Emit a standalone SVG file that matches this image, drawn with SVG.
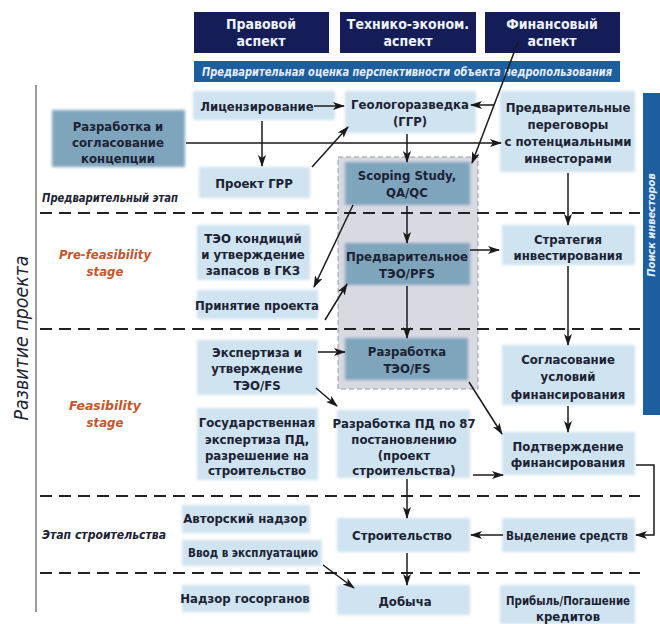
<svg xmlns="http://www.w3.org/2000/svg" width="660" height="624" viewBox="0 0 660 624">
<defs>
<filter id="soft" x="-10%" y="-20%" width="120%" height="140%"><feGaussianBlur stdDeviation="1.6"/></filter>
<marker id="ar" viewBox="0 0 12 8" refX="11" refY="4" markerWidth="12" markerHeight="8" markerUnits="userSpaceOnUse" orient="auto"><path d="M0,0 L12,4 L0,8 L3,4 z" fill="#1a1a1a"/></marker>
</defs>
<style>
.lb{fill:#cfe3f0;filter:url(#soft)}
.db{fill:#7fa5bd;filter:url(#soft)}
.hd{fill:#151d58}
.t{font-family:"DejaVu Sans Condensed","Liberation Sans",sans-serif;font-weight:bold;font-size:13px;fill:#1c2233;text-anchor:middle}
.ht{font-family:"DejaVu Sans Condensed","Liberation Sans",sans-serif;font-weight:bold;font-size:14px;fill:#eef2fa;text-anchor:middle}
.it{font-family:"DejaVu Sans Condensed","Liberation Sans",sans-serif;font-weight:bold;font-style:italic;font-size:13px;fill:#1c2233}
.or{font-family:"DejaVu Sans Condensed","Liberation Sans",sans-serif;font-weight:bold;font-style:italic;font-size:13px;fill:#c4552c;text-anchor:middle}
.dash{stroke:#222;stroke-width:2;stroke-dasharray:12 7;fill:none}
.cn path{stroke:#1a1a1a;stroke-width:1.5;fill:none}
.cn path.a{marker-end:url(#ar)}
</style>

<!-- headers -->
<g id="h-legal"><rect class="hd" x="194" y="12" width="135" height="41"/><text class="ht" x="261" y="29">Правовой</text><text class="ht" x="261" y="46">аспект</text></g>
<g id="h-tech"><rect class="hd" x="340" y="12" width="136" height="41"/><text class="ht" x="408" y="29">Технико-эконом.</text><text class="ht" x="408" y="46">аспект</text></g>
<g id="h-fin"><rect class="hd" x="485" y="12" width="135" height="41"/><text class="ht" x="552" y="29">Финансовый</text><text class="ht" x="552" y="46">аспект</text></g>
<g id="banner"><rect x="194" y="61" width="426" height="21" fill="#1d5e9e"/><text x="407" y="76" text-anchor="middle" textLength="410" lengthAdjust="spacingAndGlyphs" style="font-family:'DejaVu Sans Condensed','Liberation Sans',sans-serif;font-weight:bold;font-style:italic;font-size:12px;fill:#e6eefa">Предварительная оценка перспективности объекта недропользования</text></g>

<!-- left axis -->
<g id="axis"><path d="M36,85 L36,612" stroke="#7a7a7a" stroke-width="1.5"/><text transform="translate(28,338) rotate(-90)" text-anchor="middle" textLength="165" lengthAdjust="spacingAndGlyphs" style="font-family:'DejaVu Sans Condensed','Liberation Sans',sans-serif;font-style:italic;font-size:20px;fill:#1c2233">Развитие проекта</text></g>

<!-- right bar -->
<g id="investors"><rect x="643" y="93" width="17" height="322" fill="#1d5e9e"/><text transform="translate(655,225) rotate(-90)" text-anchor="middle" style="font-family:'DejaVu Sans Condensed','Liberation Sans',sans-serif;font-weight:bold;font-style:italic;font-size:11px;fill:#e6eefa">Поиск инвесторов</text></g>

<!-- gray region -->
<rect id="tech-zone" x="338" y="157" width="140" height="232" fill="#d9d9e2" stroke="#9a9aa6" stroke-width="1" stroke-dasharray="5 3"/>

<!-- stage separators -->
<g id="separators">
<path class="dash" d="M40,213 L640,213"/>
<path class="dash" d="M40,329 L640,329"/>
<path class="dash" d="M40,496 L640,496"/>
<path class="dash" d="M40,573 L640,573"/>
</g>

<!-- stage labels -->
<g id="stage1"><text class="it" x="42" y="202" textLength="136" lengthAdjust="spacingAndGlyphs">Предварительный этап</text></g>
<g id="stage2"><text class="or" x="105" y="259" textLength="92" lengthAdjust="spacingAndGlyphs">Pre-feasibility</text><text class="or" x="105" y="276">stage</text></g>
<g id="stage3"><text class="or" x="105" y="410" textLength="72" lengthAdjust="spacingAndGlyphs">Feasibility</text><text class="or" x="105" y="427">stage</text></g>
<g id="stage4"><text class="it" x="42" y="539" textLength="124" lengthAdjust="spacingAndGlyphs">Этап строительства</text></g>

<!-- nodes -->
<g id="n-lic"><rect class="lb" x="193" y="91" width="142" height="29"/><text class="t" x="257" y="111">Лицензирование</text></g>
<g id="n-ggr"><rect class="lb" x="345" y="91" width="131" height="42"/><text class="t" x="410" y="109">Геологоразведка</text><text class="t" x="410" y="126">(ГГР)</text></g>
<g id="n-neg"><rect class="lb" x="500" y="91" width="135" height="81"/><text class="t" x="568" y="112">Предварительные</text><text class="t" x="568" y="129">переговоры</text><text class="t" x="568" y="146">с потенциальными</text><text class="t" x="568" y="163">инвесторами</text></g>
<g id="n-concept"><rect class="db" x="52" y="110" width="133" height="57"/><text class="t" x="118" y="131">Разработка и</text><text class="t" x="118" y="147">согласование</text><text class="t" x="118" y="163">концепции</text></g>
<g id="n-pggr"><rect class="lb" x="199" y="167" width="111" height="31"/><text class="t" x="254" y="188">Проект ГРР</text></g>
<g id="n-scope"><rect class="db" x="345" y="162" width="125" height="43"/><text class="t" x="407" y="180">Scoping Study,</text><text class="t" x="407" y="197">QA/QC</text></g>

<g id="n-gkz"><rect class="lb" x="197" y="225" width="113" height="55"/><text class="t" x="253" y="243">ТЭО кондиций</text><text class="t" x="253" y="259">и утверждение</text><text class="t" x="253" y="275">запасов в ГКЗ</text></g>
<g id="n-accept"><rect class="lb" x="197" y="290" width="121" height="29"/><text class="t" x="257" y="310">Принятие проекта</text></g>
<g id="n-pfs"><rect class="db" x="345" y="243" width="125" height="42"/><text class="t" x="407" y="261">Предварительное</text><text class="t" x="407" y="278">ТЭО/PFS</text></g>
<g id="n-strat"><rect class="lb" x="502" y="225" width="133" height="40"/><text class="t" x="568" y="244">Стратегия</text><text class="t" x="568" y="260">инвестирования</text></g>

<g id="n-exp"><rect class="lb" x="197" y="340" width="121" height="55"/><text class="t" x="257" y="357">Экспертиза и</text><text class="t" x="257" y="373">утверждение</text><text class="t" x="257" y="390">ТЭО/FS</text></g>
<g id="n-fs"><rect class="db" x="345" y="338" width="123" height="42"/><text class="t" x="407" y="356">Разработка</text><text class="t" x="407" y="373">ТЭО/FS</text></g>
<g id="n-terms"><rect class="lb" x="502" y="345" width="133" height="60"/><text class="t" x="568" y="364">Согласование</text><text class="t" x="568" y="381">условий</text><text class="t" x="568" y="399">финансирования</text></g>
<g id="n-gosexp"><rect class="lb" x="197" y="408" width="121" height="72"/><text class="t" x="257" y="427">Государственная</text><text class="t" x="257" y="444">экспертиза ПД,</text><text class="t" x="257" y="460">разрешение на</text><text class="t" x="257" y="475">строительство</text></g>
<g id="n-pd"><rect class="lb" x="337" y="410" width="133" height="68"/><text class="t" x="404" y="428">Разработка ПД по 87</text><text class="t" x="404" y="444">постановлению</text><text class="t" x="404" y="460">(проект</text><text class="t" x="404" y="475">строительства)</text></g>
<g id="n-confirm"><rect class="lb" x="502" y="432" width="133" height="43"/><text class="t" x="568" y="451">Подтверждение</text><text class="t" x="568" y="467">финансирования</text></g>

<g id="n-author"><rect class="lb" x="182" y="505" width="128" height="28"/><text class="t" x="245" y="523">Авторский надзор</text></g>
<g id="n-commis"><rect class="lb" x="182" y="540" width="140" height="26"/><text class="t" x="253" y="557" textLength="130" lengthAdjust="spacingAndGlyphs">Ввод в эксплуатацию</text></g>
<g id="n-build"><rect class="lb" x="337" y="518" width="133" height="34"/><text class="t" x="402" y="540">Строительство</text></g>
<g id="n-funds"><rect class="lb" x="502" y="518" width="133" height="34"/><text class="t" x="567" y="540" textLength="122" lengthAdjust="spacingAndGlyphs">Выделение средств</text></g>

<g id="n-super"><rect class="lb" x="182" y="585" width="128" height="27"/><text class="t" x="245" y="603">Надзор госорганов</text></g>
<g id="n-mining"><rect class="lb" x="337" y="585" width="133" height="30"/><text class="t" x="405" y="606">Добыча</text></g>
<g id="n-profit"><rect class="lb" x="500" y="585" width="135" height="39"/><text class="t" x="568" y="605" textLength="124" lengthAdjust="spacingAndGlyphs">Прибыль/Погашение</text><text class="t" x="568" y="621">кредитов</text></g>

<!-- connectors -->
<g id="connectors" class="cn">
<path class="a" d="M314,106 L344,106"/>
<path class="a" d="M262,121 L262,166"/>
<path class="a" d="M312,167 L348,127"/>
<path class="a" d="M186,143 L501,143"/>
<path class="a" d="M518,42 L472,163"/>
<path class="a" d="M494,105 L471,105"/>
<path class="a" d="M407,134 L407,162"/>
<path class="a" d="M407,206 L407,243"/>
<path class="a" d="M353,205 L314,287"/>
<path class="a" d="M325,320 L347,284"/>
<path class="a" d="M470,250 L499,250"/>
<path class="a" d="M407,286 L407,338"/>
<path class="a" d="M568,173 L568,225"/>
<path class="a" d="M568,266 L568,345"/>
<path class="a" d="M318,352 L345,352"/>
<path class="a" d="M316,388 L337,406"/>
<path class="a" d="M469,382 L502,434"/>
<path class="a" d="M568,406 L568,432"/>
<path class="a" d="M473,475 L503,475"/>
<path class="a" d="M407,479 L407,518"/>
<path class="a" d="M636,465 L654,465 L654,535 L636,535"/>
<path class="a" d="M503,535 L471,535"/>
<path class="a" d="M407,553 L407,585"/>
<path class="a" d="M323,565 L354,588"/>
</g>
</svg>
